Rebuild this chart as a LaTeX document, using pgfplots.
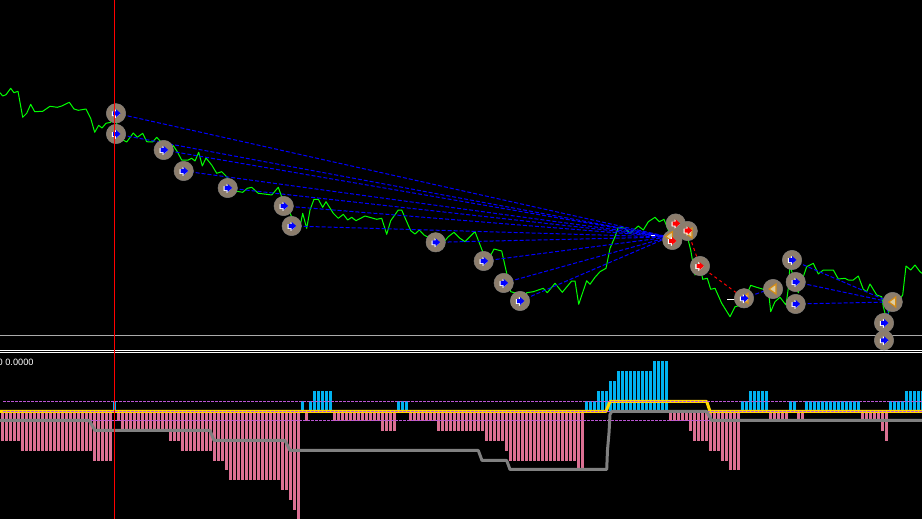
\documentclass[border=0pt]{standalone}
\usepackage{fontspec}
\setmainfont{Liberation Sans}
\usepackage{pgfplots}
\usepackage{pgfplotstable}
\pgfplotsset{compat=1.18}
\definecolor{disc}{RGB}{140,125,108}
\definecolor{discedge}{RGB}{130,128,125}
\definecolor{price}{RGB}{0,255,0}
\definecolor{histup}{RGB}{0,178,240}
\definecolor{histdn}{RGB}{219,112,147}
\definecolor{level}{RGB}{186,85,211}
\definecolor{sig}{RGB}{255,215,0}
\definecolor{slow}{RGB}{128,128,128}
\definecolor{tri}{RGB}{214,140,20}
\definecolor{trifill}{RGB}{222,205,160}

% trade marks
\newcommand\arrowpath{%
  \pgfpathmoveto{\pgfpoint{-3pt}{-2pt}}%
  \pgfpathlineto{\pgfpoint{0pt}{-2pt}}%
  \pgfpathlineto{\pgfpoint{0pt}{-4pt}}%
  \pgfpathlineto{\pgfpoint{4.5pt}{0pt}}%
  \pgfpathlineto{\pgfpoint{0pt}{4pt}}%
  \pgfpathlineto{\pgfpoint{0pt}{2pt}}%
  \pgfpathlineto{\pgfpoint{-3pt}{2pt}}%
  \pgfpathclose}
\newcommand\defarrow[2]{%
  \pgfdeclareplotmark{#1}{%
    \pgfsetfillcolor{white}%
    \pgfsetstrokecolor{white}%
    \pgfsetlinewidth{0.6pt}%
    \begin{pgfscope}\pgftransformshift{\pgfpoint{-0.9pt}{-0.5pt}}\arrowpath\pgfusepathqfillstroke\end{pgfscope}%
    \pgfsetfillcolor{#2}%
    \arrowpath\pgfusepathqfill}}
\defarrow{bluearrow}{blue}
\defarrow{redarrow}{red}
\pgfdeclareplotmark{lefttri}{%
  \pgfsetlinewidth{1.1pt}%
  \pgfsetstrokecolor{tri}%
  \pgfsetfillcolor{trifill}%
  \pgfpathmoveto{\pgfpoint{-4pt}{0pt}}%
  \pgfpathlineto{\pgfpoint{3pt}{5pt}}%
  \pgfpathlineto{\pgfpoint{3pt}{-5pt}}%
  \pgfpathclose\pgfusepathqfillstroke}

\pgfplotsset{
  chart/.style={scale only axis,width=922pt,height=519pt,xmin=0,xmax=922,ticks=none,
    axis line style={draw=none},enlargelimits=false},
  bdash/.style={blue,line width=1pt,dash pattern=on 4pt off 2pt},
  rdash/.style={red,line width=1pt,dash pattern=on 3pt off 3pt},
  lvl/.style={level,line width=1pt,dash pattern=on 2.7pt off 1.3pt},
}

% histogram, one value per bar, height in pixels above the zero line
\pgfplotstableread[row sep=\\]{v\\%
-29\\-29\\-29\\-29\\-29\\%
-39\\-39\\-39\\-39\\-39\\-39\\-39\\-39\\-39\\-39\\-39\\-39\\-39\\-39\\-39\\-39\\-39\\-39\\%
-49\\-49\\-49\\-49\\-49\\11\\-9\\%
-19\\-19\\-19\\-19\\-19\\-19\\-19\\-19\\-19\\-19\\-19\\-19\\%
-29\\-29\\-29\\-39\\-39\\-39\\-39\\-39\\-39\\-39\\-39\\-49\\-49\\-49\\-58\\%
-68\\-68\\-68\\-68\\-68\\-68\\-68\\-68\\-68\\-68\\-68\\-68\\-68\\%
-78\\-78\\-88\\-98\\-108\\11\\-9\\11\\21\\21\\21\\21\\21\\%
-9\\-9\\-9\\-9\\-9\\-9\\-9\\-9\\-9\\-9\\-9\\-9\\-19\\-19\\-19\\-19\\11\\11\\11\\%
-9\\-9\\-9\\-9\\-9\\-9\\-9\\%
-19\\-19\\-19\\-19\\-19\\-19\\-19\\-19\\-19\\-19\\-19\\-19\\-29\\-29\\-29\\-29\\-29\\-39\\%
-49\\-49\\-49\\-49\\-49\\-49\\-49\\-49\\-49\\-49\\-49\\-49\\-49\\-49\\-49\\-49\\-49\\%
-58\\-58\\11\\11\\11\\21\\21\\21\\31\\31\\%
41\\41\\41\\41\\41\\41\\41\\41\\41\\51\\51\\51\\51\\%
-9\\-9\\-9\\-9\\-9\\-19\\-29\\-29\\-29\\-29\\-39\\-39\\-39\\-49\\-49\\-58\\-58\\-58\\%
11\\11\\21\\21\\21\\21\\21\\-9\\-9\\-9\\-9\\-9\\11\\11\\-9\\-9\\%
11\\11\\11\\11\\11\\11\\11\\11\\11\\11\\11\\11\\11\\11\\%
-9\\-9\\-9\\-9\\-9\\-19\\-29\\11\\11\\11\\11\\21\\21\\21\\21\\21\\%
}\bars

\begin{document}
\begin{tikzpicture}
\useasboundingbox (0,0) rectangle (922pt,519pt);
\begin{axis}[chart,ymin=0,ymax=519,y dir=reverse,axis background/.style={fill=black}]
% trade discs
\addplot[only marks,mark=*,mark size=9.7pt,mark options={fill=disc,draw=discedge,line width=0.5pt}] coordinates {
(116,113.3)(116,134)(163.7,150)(183.7,171)(227.7,188)(283.7,206)(291.7,226)
(435.7,242.3)(483.7,261)(503.7,283)(520,301)
(675.7,223.5)(672.3,240)(687.7,231)(700,266)(744,298.3)(773,289)
(792,260)(795.7,282)(795.7,304)(892.7,302)(884,323)(884,340.3)};
% separators
\addplot[color={rgb,255:red,170;green,170;blue,170},line width=1pt] coordinates {(0,335.5)(922,335.5)};
\addplot[white,line width=1pt] coordinates {(0,350.5)(922,350.5)};
\addplot[white,line width=1pt] coordinates {(0,352.5)(922,352.5)};
% price
\addplot[price,line width=1pt,line join=round] coordinates {
(0,92.7)(2.7,96)(6,94.7)(10.7,88.3)(14,92.7)(18,91.3)(22.7,117.3)(26.7,113.3)(30.7,104.3)(34.7,111.7)
(42.7,111.3)(50,106.3)(57.3,107.3)(61.7,106)(69.3,102.3)(74,109)(78.3,110.3)(86,109)(90.7,118.3)(94.7,132.3)
(98.7,125.3)(102,128)(106,123.3)(110.7,122.3)(114,113.3)(116.7,123.3)(118.3,133.3)(121.7,139.3)(126.7,142)
(133.3,133)(137.3,137.3)(142.7,133.3)(146.7,141.7)(152.7,142)(156.7,137.3)(161.7,142.7)(166,145)(169.3,150.7)
(173.3,145.7)(177.3,151.7)(181.7,160)(188.3,160)(191.7,158.3)(195,161)(198.7,152.3)(202.3,166)(206,158)
(211.7,165)(216.7,173.3)(221.7,171.7)(226.7,176.7)(230,183.3)(235,191)(242.7,192.3)(247.3,188.3)(251.7,187.3)
(258.3,193.3)(266.7,194.3)(271.7,195)(278.3,187.3)(281.7,196.7)(286.7,200)(290,213.3)(295,223.3)(299,231.7)
(302.7,213.3)(306.7,228.3)(310,210)(314,199.3)(318.3,199.3)(322.7,207.3)(326,201.7)(333.3,213.3)(338.3,218.3)
(343.3,214.3)(347.7,220)(351.7,217.3)(356,220.7)(365,216)(376.7,219.3)(381.7,218.3)(386.7,234.3)(390.7,220.7)
(398.3,210)(401.7,210)(406,220)(410.7,230.7)(415,234)(419.3,230)(424,235)(430,238.3)(436.7,241.7)(443.3,242.7)
(448.3,236.7)(454,232.3)(460,238.3)(465,241.7)(475,231.7)(483.3,253.3)(488.3,260)(494,249)(501.7,251)
(506.7,273.3)(510.7,291.7)(516.7,293.3)(521.7,305)(526.7,292.7)(533.3,291.7)(543.3,288.3)(547.3,292.7)(555,283.3)
(562.3,292.3)(571.7,281)(575,281)(578.7,304.3)(586.7,280.7)(590,284.3)(595,277.3)(600,271.7)(606,268.3)(610,248.3)
(615,236.7)(618.3,227.3)(625,228.3)(630,233.3)(638.3,226)(643.3,230)(648.3,221.7)(655,217.3)(659.3,221.7)
(664,219.3)(668.3,230)(670,240)(674,236.7)(678.3,240)(683.3,235)(687.3,236.7)(690.7,250)(695,275)(700,265)
(702.7,279.3)(707.3,278.3)(710.7,289.3)(715,288.3)(721.7,303.3)(730,316.7)(735,306.7)(741.7,305)(746.7,295)
(750.7,285.3)(756.7,287.3)(763.3,289.3)(768.3,289.3)(770.7,311.7)(775,301.7)(780,297.3)(786,305)(788.3,288.3)
(790,265)(793.3,276.7)(798.3,292.7)(803.3,276.7)(806.7,266.7)(813.3,263.3)(818.3,274)(823.3,270)(833.3,270)
(838.3,279)(845,278.3)(848.3,280)(853.3,280)(858.3,276)(863.3,289.3)(866.7,291.7)(870,284)(876.7,295)(881.7,296.7)
(883.3,306.7)(886.7,320)(890,306.7)(896.7,303.3)(902.7,295)(906,266)(910.7,270)(915,265)(920,271.7)(922,273.3)};
% open to close links
\addplot[bdash] coordinates {(116,113.3)(669,237)};
\addplot[bdash] coordinates {(116,134)(669,237)};
\addplot[bdash] coordinates {(163.7,150)(669,237)};
\addplot[bdash] coordinates {(183.7,171)(669,237)};
\addplot[bdash] coordinates {(227.7,188)(669,237)};
\addplot[bdash] coordinates {(283.7,206)(669,237)};
\addplot[bdash] coordinates {(291.7,226)(669,237)};
\addplot[bdash] coordinates {(435.7,242.3)(669,237)};
\addplot[bdash] coordinates {(483.7,261)(669,237)};
\addplot[bdash] coordinates {(503.7,283)(669,237)};
\addplot[bdash] coordinates {(520,301)(669,237)};
\addplot[bdash] coordinates {(744,298.3)(770,289)};
\addplot[bdash] coordinates {(792,260)(890,302)};
\addplot[bdash] coordinates {(795.7,282)(890,302)};
\addplot[bdash] coordinates {(795.7,304)(890,302)};
\addplot[bdash] coordinates {(884,323)(890,302)};
\addplot[bdash] coordinates {(884,340.3)(890,302)};
\addplot[rdash] coordinates {(675.7,223.5)(687.7,231)};
\addplot[rdash] coordinates {(672.3,240)(687.7,231)};
\addplot[rdash] coordinates {(687.7,231)(700,266)};
\addplot[rdash] coordinates {(700,266)(744,298.3)};
% white tails
\addplot[white,line width=1pt] coordinates {(651,235.5)(655,235.5)};
\addplot[white,line width=1pt] coordinates {(727,299.5)(735,299.5)};
\addplot[white,line width=1pt] coordinates {(763,289.5)(771,289.5)};
% arrows and triangles
\addplot[only marks,mark=lefttri] coordinates {(669.5,236.5)(689,233)(745,298.3)(773,289)(892.7,302)};
\addplot[only marks,mark=bluearrow] coordinates {
(116,113.3)(116,134)(163.7,150)(183.7,171)(227.7,188)(283.7,206)(291.7,226)
(435.7,242.3)(483.7,261)(503.7,283)(520,301)(744,298.3)
(792,260)(795.7,282)(795.7,304)(884,323)(884,340.3)};
\addplot[only marks,mark=redarrow] coordinates {(675.7,223.5)(687.7,230.5)(672,241)(699.5,266)};
\node[anchor=base west,inner sep=0pt,text=white,font=\fontsize{9.2}{9.2}\selectfont] at (axis cs:-2.5,365) {0 0.0000};
\end{axis}

% indicator window, y is pixels above the zero line
\begin{axis}[chart,ymin=-107,ymax=412]
\addplot[ycomb,histdn,line width=3pt,restrict y to domain=-200:0] table[x expr=\coordindex*4+2.5,y=v] {\bars};
\addplot[ycomb,histup,line width=3pt,restrict y to domain=0:200] table[x expr=\coordindex*4+2.5,y=v] {\bars};
\addplot[sig,line width=3pt,line join=round] coordinates {(0,0.5)(606,0.5)(610,10.5)(706.7,10.5)(710,0.5)(922,0.5)};
\addplot[lvl] coordinates {(3,10.5)(922,10.5)};
\addplot[lvl] coordinates {(3,0.5)(922,0.5)};
\addplot[lvl] coordinates {(3,-8.5)(922,-8.5)};
\addplot[slow,line width=3pt,line join=round] coordinates {
(0,-8.5)(89.3,-8.5)(95,-18.5)(210,-18.5)(214,-28.5)(285,-28.5)(290,-38.5)(478.3,-38.5)(482,-48.5)
(506.7,-48.5)(510,-57.5)(606.7,-57.5)(607.5,-38)(609,-21)(610,-2.5)(611.7,0.5)(706.7,0.5)(711.7,-8.5)(922,-8.5)};
\addplot[red,line width=1pt] coordinates {(114.5,-107)(114.5,412)};
\end{axis}
\end{tikzpicture}
\end{document}
